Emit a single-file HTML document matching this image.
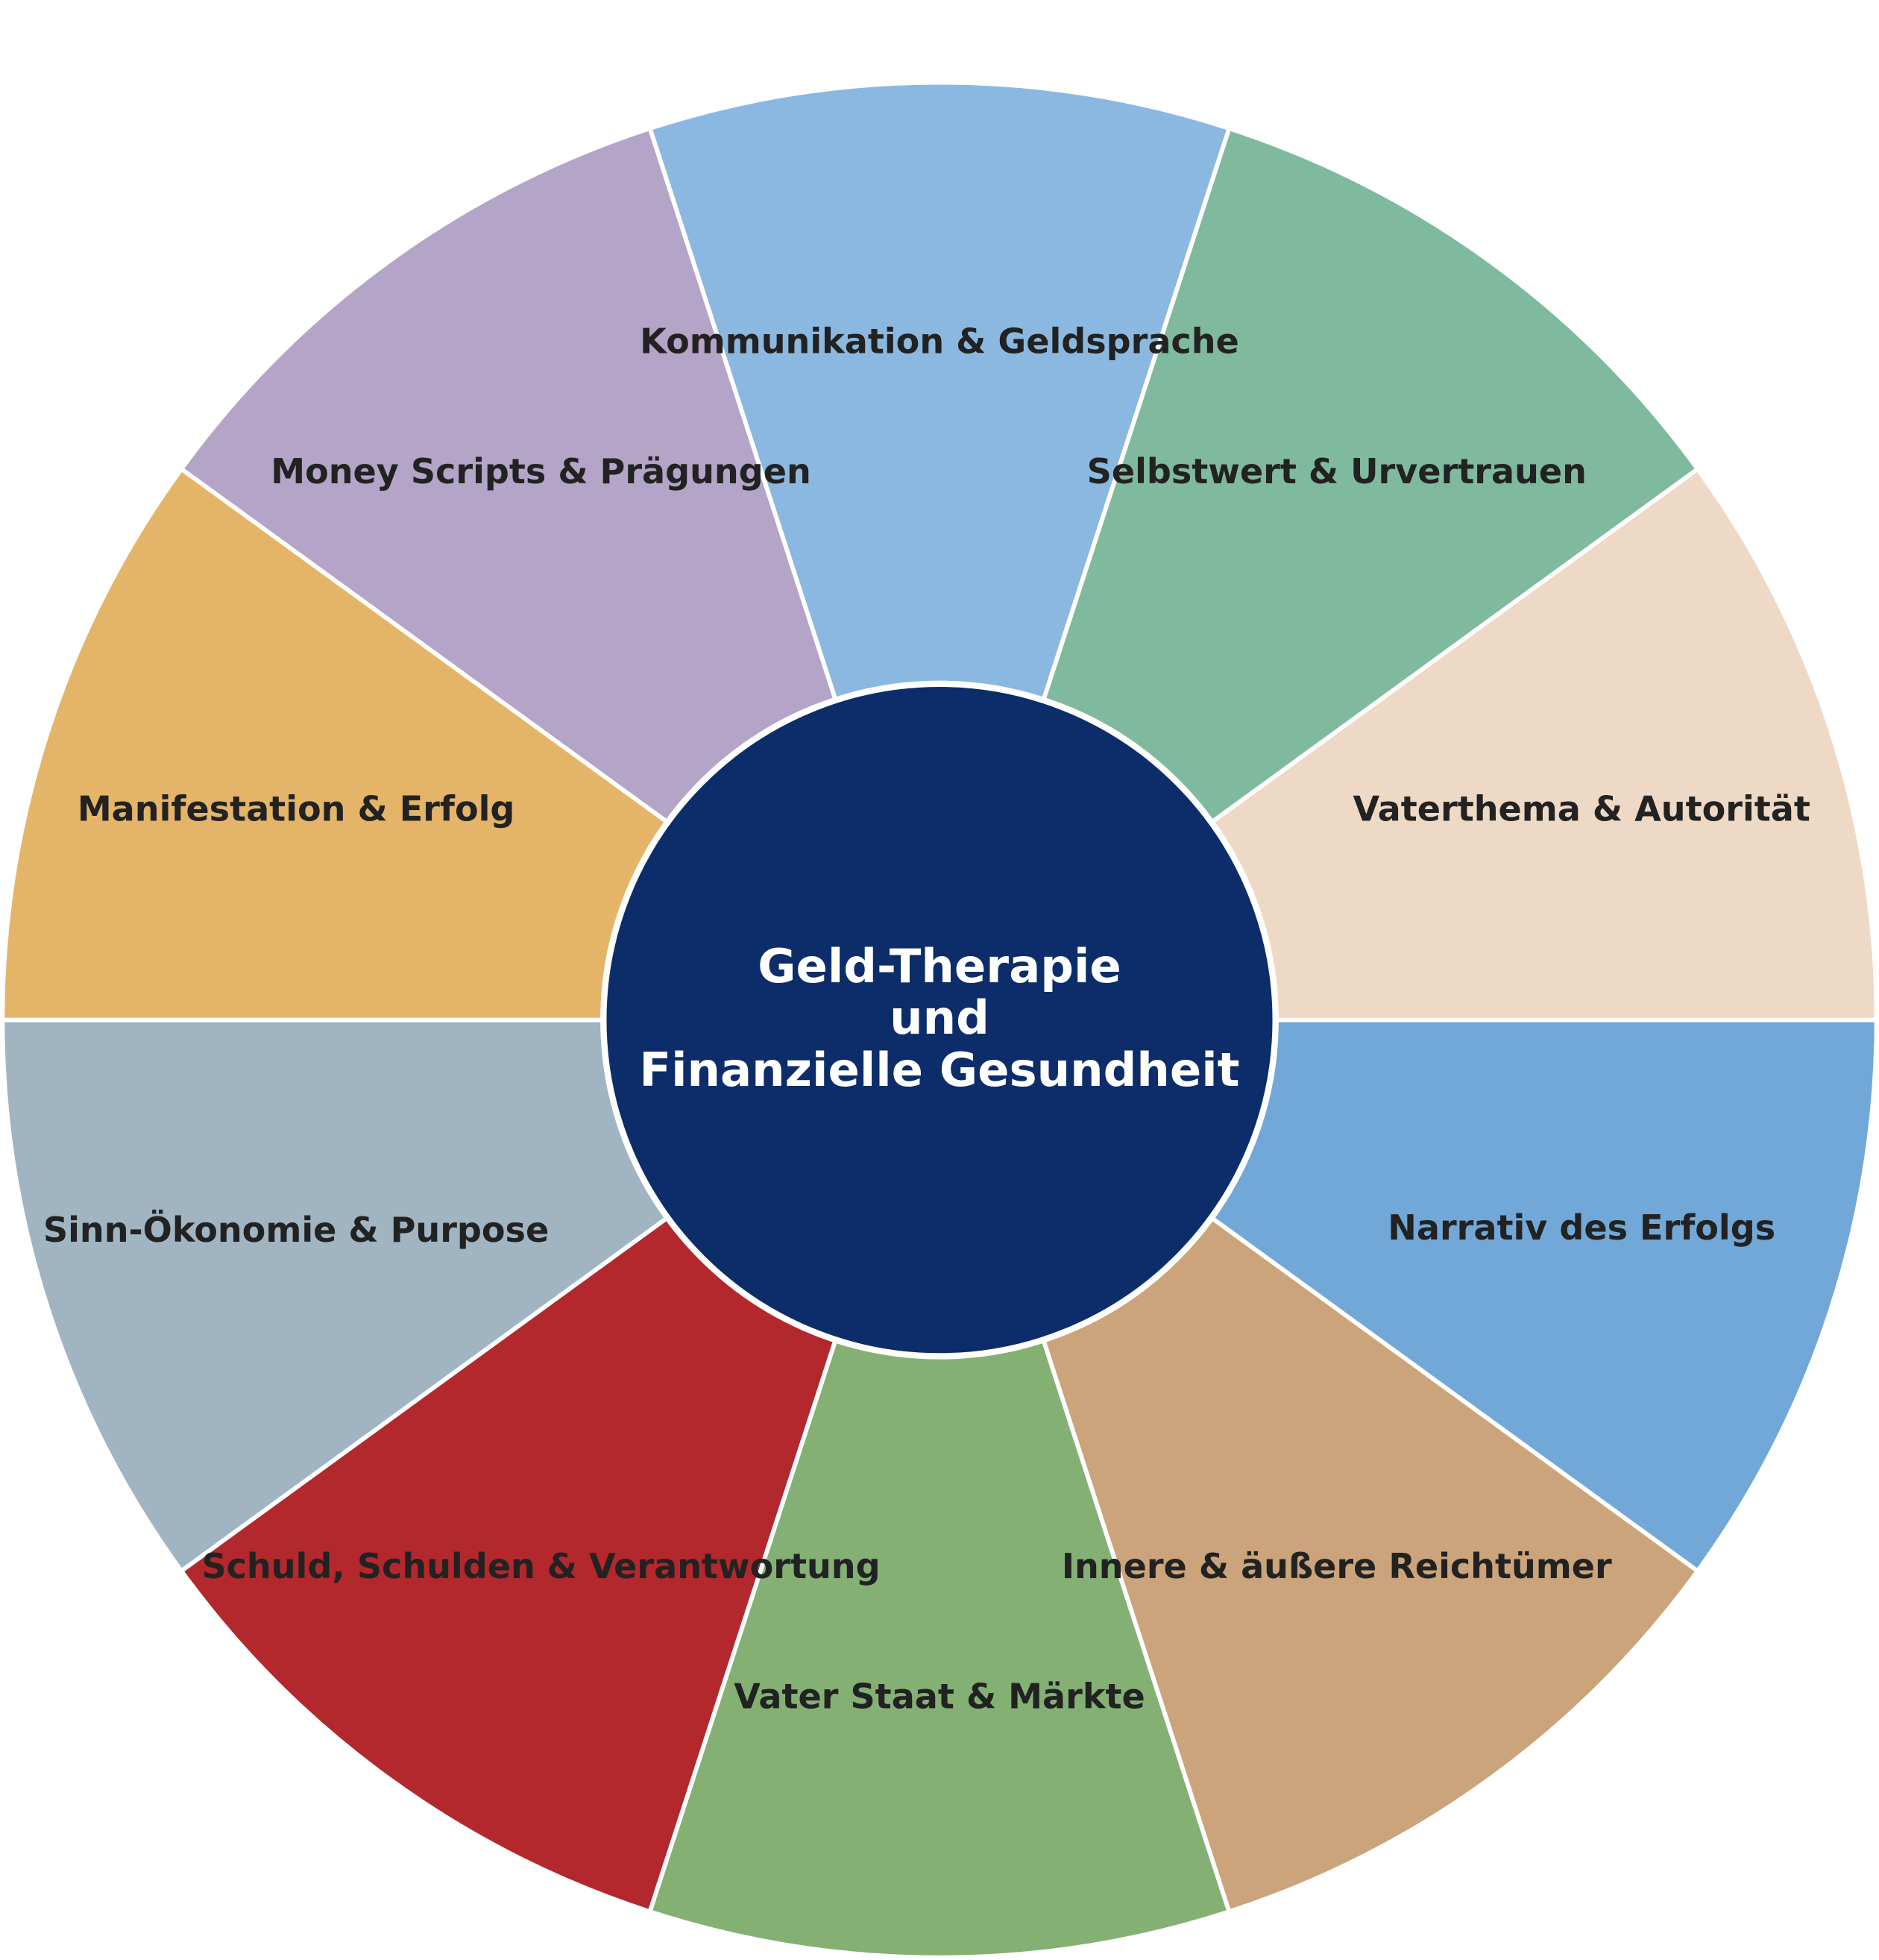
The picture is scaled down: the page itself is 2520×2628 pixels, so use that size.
<!DOCTYPE html>
<html><head><meta charset="utf-8"><style>
html,body{margin:0;padding:0;background:#fff;}
svg{display:block;}
text{font-family:"DejaVu Sans","Liberation Sans",sans-serif;font-weight:bold;}
</style></head><body>
<svg width="2520" height="2628" viewBox="0 0 1504 1568" preserveAspectRatio="none" xmlns="http://www.w3.org/2000/svg">
<g stroke="#fff" stroke-width="3.5" stroke-linejoin="round">
<path d="M752 816 L1502 816 A750 750 0 0 0 1358.8 375.2 Z" fill="#eed9c6"/>
<path d="M752 816 L1358.8 375.2 A750 750 0 0 0 983.8 102.7 Z" fill="#80ba9e"/>
<path d="M752 816 L983.8 102.7 A750 750 0 0 0 520.2 102.7 Z" fill="#8bb8e0"/>
<path d="M752 816 L520.2 102.7 A750 750 0 0 0 145.2 375.2 Z" fill="#b4a4c8"/>
<path d="M752 816 L145.2 375.2 A750 750 0 0 0 2 816 Z" fill="#e4b568"/>
<path d="M752 816 L2 816 A750 750 0 0 0 145.2 1256.8 Z" fill="#a0b4c2"/>
<path d="M752 816 L145.2 1256.8 A750 750 0 0 0 520.2 1529.3 Z" fill="#b3282c"/>
<path d="M752 816 L520.2 1529.3 A750 750 0 0 0 983.8 1529.3 Z" fill="#84b074"/>
<path d="M752 816 L983.8 1529.3 A750 750 0 0 0 1358.8 1256.8 Z" fill="#cba47c"/>
<path d="M752 816 L1358.8 1256.8 A750 750 0 0 0 1502 816 Z" fill="#71a8d7"/>
</g>
<circle cx="752" cy="816" r="269" fill="#0c2d6a" stroke="#fff" stroke-width="5"/>
<g font-size="27.5" fill="#222" text-anchor="middle" dominant-baseline="central">
<text x="752" y="273">Kommunikation &amp; Geldsprache</text>
<text x="1070" y="377">Selbstwert &amp; Urvertrauen</text>
<text x="1266" y="647">Vaterthema &amp; Autorität</text>
<text x="1266" y="982">Narrativ des Erfolgs</text>
<text x="1070" y="1253">Innere &amp; äußere Reichtümer</text>
<text x="752" y="1357">Vater Staat &amp; Märkte</text>
<text x="433" y="1253">Schuld, Schulden &amp; Verantwortung</text>
<text x="237" y="984">Sinn-Ökonomie &amp; Purpose</text>
<text x="237" y="647">Manifestation &amp; Erfolg</text>
<text x="433" y="377">Money Scripts &amp; Prägungen</text>
</g>
<g font-size="37.3" fill="#fff" text-anchor="middle" dominant-baseline="central">
<text x="752" y="773">Geld-Therapie</text>
<text x="752" y="814">und</text>
<text x="752" y="856">Finanzielle Gesundheit</text>
</g>
</svg>
</body></html>
